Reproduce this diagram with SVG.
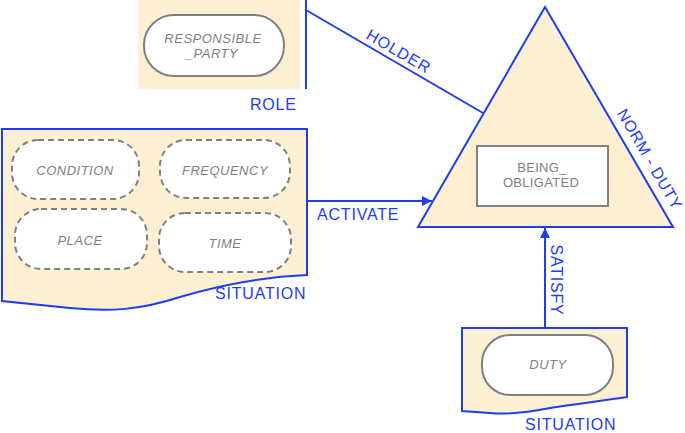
<svg xmlns="http://www.w3.org/2000/svg" width="685" height="433" viewBox="0 0 685 433">
<defs>
<style>
.bg{fill:#FDF0D2;stroke:none}
.frame{fill:#FDF0D2;stroke:#1E3CF0;stroke-width:2}
.ln{fill:none;stroke:#1E3CF0;stroke-width:2}
.lbl{font-family:"Liberation Sans",Arial,sans-serif;font-size:16px;letter-spacing:0.8px;fill:#1E3CF0}
.nd{fill:#FFFFFF;stroke:#808080;stroke-width:2}
.dash{fill:#FFFFFF;stroke:#808080;stroke-width:2;stroke-dasharray:6,4}
.t{font-family:"Liberation Sans",Arial,sans-serif;font-size:13px;font-style:italic;letter-spacing:0.5px;fill:#808080;text-anchor:middle}
.tn{font-family:"Liberation Sans",Arial,sans-serif;font-size:13px;letter-spacing:0.3px;fill:#808080;text-anchor:middle}
</style>
<marker id="arr" viewBox="0 0 10 10" refX="10" refY="5" markerWidth="10" markerHeight="10" markerUnits="userSpaceOnUse" orient="auto">
<path d="M0,0 L10,5 L0,10 Z" fill="#1E3CF0"/>
</marker>
</defs>

<g id="role">
<rect class="bg" x="138" y="0" width="162" height="89"/>
<line class="ln" x1="306" y1="0" x2="306" y2="89"/>
<text class="lbl" x="250" y="110">ROLE</text>
</g>
<g id="responsible_party">
<rect class="nd" x="144" y="15" width="140" height="61" rx="30"/>
<text class="t" x="213" y="43">RESPONSIBLE</text>
<text class="t" x="212" y="58">_PARTY</text>
</g>

<g id="situation1">
<path class="frame" d="M2,129 L307,129 L307,275 C260,277 220,285 180,297 C140,310 110,312 70,308 L2,301 Z"/>
<text class="lbl" x="215" y="299">SITUATION</text>
</g>
<g id="condition">
<rect class="dash" x="12" y="140" width="127" height="59" rx="26"/>
<text class="t" x="75" y="175">CONDITION</text>
</g>
<g id="frequency">
<rect class="dash" x="160" y="140" width="130" height="58" rx="26"/>
<text class="t" x="225" y="175">FREQUENCY</text>
</g>
<g id="place">
<rect class="dash" x="15" y="209" width="132" height="60" rx="26"/>
<text class="t" x="80" y="245">PLACE</text>
</g>
<g id="time">
<rect class="dash" x="159" y="213" width="132" height="59" rx="26"/>
<text class="t" x="225" y="248">TIME</text>
</g>

<g id="norm_duty">
<polygon class="frame" points="545,7 673,227 418,227"/>
<text class="lbl" transform="translate(645,162) rotate(59.8)" text-anchor="middle" style="letter-spacing:0.6px">NORM - DUTY</text>
</g>
<g id="being_obligated">
<rect class="nd" x="477" y="146" width="131" height="60"/>
<text class="tn" x="542" y="172">BEING_</text>
<text class="tn" x="541" y="187">OBLIGATED</text>
</g>

<g id="situation2">
<path class="frame" d="M462,328 L627,328 L627,397 C600,401 575,404 550,408 C530,412 510,415 490,413 L462,411 Z"/>
<text class="lbl" x="525" y="430">SITUATION</text>
</g>
<g id="duty">
<rect class="nd" x="482" y="335" width="131" height="60" rx="28"/>
<text class="t" x="548" y="369">DUTY</text>
</g>

<g id="connectors">
<line class="ln" x1="306" y1="10" x2="483" y2="113"/>
<text class="lbl" transform="translate(396,56) rotate(30.2)" text-anchor="middle">HOLDER</text>
<line class="ln" x1="308" y1="201" x2="432" y2="201" marker-end="url(#arr)"/>
<text class="lbl" x="317" y="220">ACTIVATE</text>
<line class="ln" x1="545" y1="327" x2="545" y2="228" marker-end="url(#arr)"/>
<text class="lbl" transform="translate(551,280) rotate(90)" text-anchor="middle">SATISFY</text>
</g>
</svg>
